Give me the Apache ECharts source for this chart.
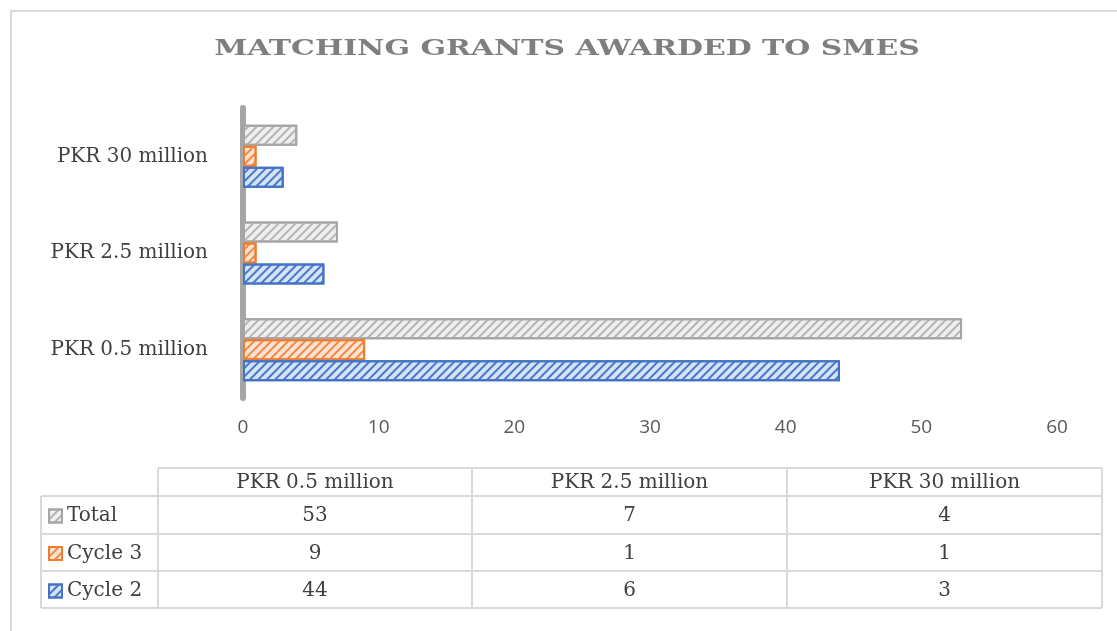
<!DOCTYPE html>
<html><head><meta charset="utf-8">
<script src="https://cdn.jsdelivr.net/npm/echarts@6/dist/echarts.min.js"></script>
<style>html,body{margin:0;padding:0;background:#fff}#c{width:1117px;height:631px}</style>
</head><body><div id="c"></div>
<script>
const titleText = 'MATCHING GRANTS AWARDED TO SMES';
const categories = ['PKR 0.5 million', 'PKR 2.5 million', 'PKR 30 million'];
const seriesNames = ['Total', 'Cycle 3', 'Cycle 2'];
const totalValues = [53, 7, 4];
const cycle3Values = [9, 1, 1];
const cycle2Values = [44, 6, 3];
const xTickMin = 0, xTickMax = 60, xTickStep = 10;

const serif = '"DejaVu Serif", serif';
const styles = {
  'Total':   {fill: '#efefef', line: '#b4b4b4', border: '#a5a5a5'},
  'Cycle 3': {fill: '#fbe3d2', line: '#ee8a4a', border: '#ed7d31'},
  'Cycle 2': {fill: '#d6e2f5', line: '#4a78c8', border: '#4472c4'}
};
const valuesByName = {'Total': totalValues, 'Cycle 3': cycle3Values, 'Cycle 2': cycle2Values};

function mkSeries(name) {
  const s = styles[name];
  return {
    name: name, type: 'bar', data: valuesByName[name],
    barWidth: 21, barGap: '0%', barCategoryGap: '35%',
    itemStyle: {
      color: s.fill, borderColor: s.border, borderWidth: 2,
      decal: {symbol: 'rect', symbolSize: 1, color: s.line, dashArrayX: [1, 0], dashArrayY: [1.5, 3.5], rotation: -Math.PI / 4}
    },
    emphasis: {disabled: true}, animation: false
  };
}

// table geometry
const colX = [158, 472, 787, 1102];
const rowY = [468, 496, 534, 571, 608];
const tableLeft = 41;
const lineColor = '#d9d9d9';
const g = [];
g.push({type: 'rect', shape: {x: 11, y: 11, width: 1130, height: 640}, style: {fill: 'none', stroke: lineColor, lineWidth: 2}, silent: true});
g.push({type: 'text', x: 567, y: 49, scaleX: 1.3, style: {text: titleText, font: 'bold 23px ' + serif, fill: '#7f7f7f', align: 'center', verticalAlign: 'middle'}, silent: true});
// horizontal lines
g.push({type: 'line', shape: {x1: colX[0], y1: rowY[0], x2: colX[3], y2: rowY[0]}, style: {stroke: lineColor, lineWidth: 2}});
for (let i = 1; i < rowY.length; i++) g.push({type: 'line', shape: {x1: tableLeft, y1: rowY[i], x2: colX[3], y2: rowY[i]}, style: {stroke: lineColor, lineWidth: 2}});
// vertical lines
g.push({type: 'line', shape: {x1: tableLeft, y1: rowY[1], x2: tableLeft, y2: rowY[4]}, style: {stroke: lineColor, lineWidth: 2}});
colX.forEach(x => g.push({type: 'line', shape: {x1: x, y1: rowY[0], x2: x, y2: rowY[4]}, style: {stroke: lineColor, lineWidth: 2}}));
// headers
categories.forEach((c, i) => g.push({type: 'text', x: (colX[i] + colX[i + 1]) / 2, y: (rowY[0] + rowY[1]) / 2 + 1, style: {text: c, font: '20px ' + serif, fill: '#404040', align: 'center', verticalAlign: 'middle'}}));
// values
seriesNames.forEach((n, r) => {
  valuesByName[n].forEach((v, i) => g.push({type: 'text', x: (colX[i] + colX[i + 1]) / 2, y: (rowY[r + 1] + rowY[r + 2]) / 2 + 1, style: {text: String(v), font: '20px ' + serif, fill: '#404040', align: 'center', verticalAlign: 'middle'}}));
});

const chart = echarts.init(document.getElementById('c'), null, {renderer: 'canvas'});
chart.setOption({
  animation: false,
  grid: {left: 243, right: 60, top: 108, height: 290, containLabel: false},
  legend: {
    data: seriesNames, orient: 'vertical', left: 43, top: 501, icon: 'rect',
    itemWidth: 13, itemHeight: 13, itemGap: 17.5, selectedMode: false,
    textStyle: {fontFamily: serif, fontSize: 20, color: '#404040', lineHeight: 20}
  },
  xAxis: {
    type: 'value', min: xTickMin, max: xTickMax, interval: xTickStep,
    axisLine: {show: false}, axisTick: {show: false}, splitLine: {show: false},
    axisLabel: {fontFamily: '"Open Sans", sans-serif', fontSize: 19, color: '#595959', margin: 20}
  },
  yAxis: {
    type: 'category', data: categories,
    axisLine: {show: true, lineStyle: {color: '#a6a6a6', width: 6}},
    axisTick: {show: false},
    axisLabel: {fontFamily: serif, fontSize: 20, color: '#404040', margin: 35}
  },
  series: seriesNames.map(mkSeries),
  graphic: g
});
</script></body></html>
